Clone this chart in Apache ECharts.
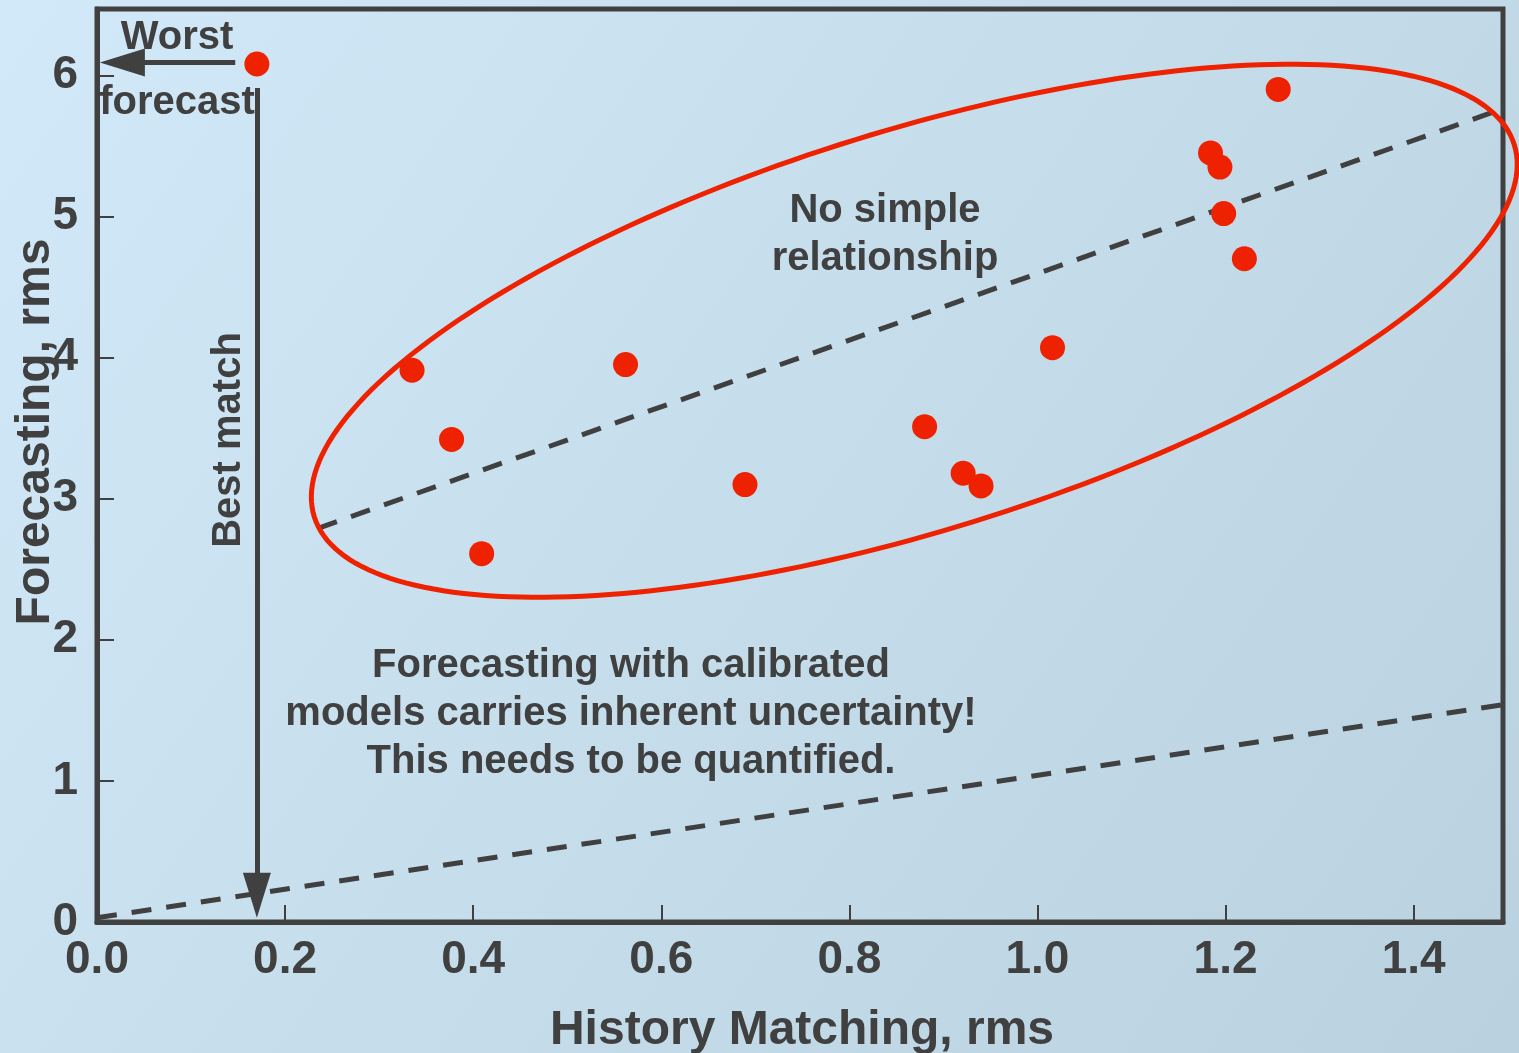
<!DOCTYPE html>
<html><head><meta charset="utf-8">
<script src="https://cdn.jsdelivr.net/npm/echarts@6/dist/echarts.min.js"></script>
<style>html,body{margin:0;padding:0;overflow:hidden;}#c{width:1519px;height:1053px;}</style>
</head><body><div id="c"></div>
<script>
// ---- data ----
const historyRms = [0.170, 0.335, 0.377, 0.409, 0.562, 0.689, 0.880, 0.921, 0.940, 1.016, 1.184, 1.194, 1.198, 1.220, 1.256];
const forecastRms = [6.08, 3.91, 3.42, 2.61, 3.95, 3.10, 3.51, 3.18, 3.09, 4.07, 5.45, 5.35, 5.02, 4.70, 5.90];
const trendLine = [[0.235, 2.79], [1.485, 5.74]];
const lowerLine = [[0.0, 0.03], [1.495, 1.54]];
const ellipseCenter = [0.869, 4.19];
const ellipseU = [0.638, 1.318];
const ellipseV = [-0.0631, 1.353];
const worstArrow = [[0.147, 6.09], [0.027, 6.09]];
const bestArrow = [[0.170, 5.91], [0.170, 0.19]];
const xTickLabels = ['0.0','0.2','0.4','0.6','0.8','1.0','1.2','1.4'];
const yTickLabels = ['0','1','2','3','4','5','6'];

const INK = '#404040';
const RED = '#ee2200';
const FONT = "'Liberation Sans', Arial, sans-serif";
const points = historyRms.map((x, i) => [x, forecastRms[i]]);

const chart = echarts.init(document.getElementById('c'));
chart.setOption({
  animation: false,
  backgroundColor: new echarts.graphic.LinearGradient(0, 0, 1, 1, [
    { offset: 0, color: '#d1e9f8' },
    { offset: 1, color: '#bad2df' }
  ]),
  grid: { left: 97, top: 9, right: 16, bottom: 131, show: true, borderColor: INK, borderWidth: 5, backgroundColor: 'transparent' },
  xAxis: {
    type: 'value', min: 0, max: 1.495, interval: 0.2,
    splitLine: { show: false },
    axisLine: { show: true, lineStyle: { color: INK, width: 5 } },
    axisTick: { show: true, inside: true, length: 17, lineStyle: { color: INK, width: 2 } },
    axisLabel: {
      showMaxLabel: false, margin: 15, color: INK, fontSize: 46, fontWeight: 'bold', fontFamily: FONT,
      formatter: v => { const i = Math.round(v / 0.2); return Math.abs(i * 0.2 - v) < 1e-6 ? (xTickLabels[i] || '') : ''; }
    }
  },
  yAxis: {
    type: 'value', min: 0, max: 6.47, interval: 1,
    splitLine: { show: false },
    axisLine: { show: true, lineStyle: { color: INK, width: 5 } },
    axisTick: { show: true, inside: true, length: 17, lineStyle: { color: INK, width: 2 } },
    axisLabel: {
      showMaxLabel: false, margin: 19, color: INK, fontSize: 46, fontWeight: 'bold', fontFamily: FONT,
      padding: [4, 0, 0, 0],
      formatter: v => { const i = Math.round(v); return Math.abs(i - v) < 1e-6 ? (yTickLabels[i] || '') : ''; }
    }
  },
  series: [
    {
      type: 'line', data: lowerLine, symbol: 'none', z: 3,
      lineStyle: { color: INK, width: 5, type: [20, 15] }
    },
    {
      type: 'line', data: trendLine, symbol: 'none', z: 3,
      lineStyle: { color: INK, width: 5, type: [20, 15] }
    },
    {
      type: 'custom', z: 4, clip: false,
      data: [ellipseCenter],
      renderItem: function (params, api) {
        const pts = [];
        const N = 240;
        for (let k = 0; k <= N; k++) {
          const t = 2 * Math.PI * k / N;
          pts.push(api.coord([
            ellipseCenter[0] + ellipseU[0] * Math.cos(t) + ellipseV[0] * Math.sin(t),
            ellipseCenter[1] + ellipseU[1] * Math.cos(t) + ellipseV[1] * Math.sin(t)
          ]));
        }
        return { type: 'polygon', shape: { points: pts }, style: { fill: 'none', stroke: RED, lineWidth: 5 } };
      }
    },
    {
      type: 'line', data: [], z: 5,
      markLine: {
        silent: true, symbol: ['none', 'triangle'], symbolSize: [28, 45], label: { show: false },
        lineStyle: { color: INK, width: 5, type: 'solid' },
        data: [
          [{ coord: worstArrow[0] }, { coord: worstArrow[1] }],
          [{ coord: bestArrow[0] }, { coord: bestArrow[1] }]
        ]
      }
    },
    {
      type: 'scatter', data: points, symbol: 'circle', symbolSize: 25, z: 6,
      itemStyle: { color: RED, opacity: 1 }
    }
  ],
  graphic: [
    { type: 'text', x: 177, y: 38, style: { text: 'Worst', textAlign: 'center', textVerticalAlign: 'middle', fill: INK, font: 'bold 40px ' + FONT } },
    { type: 'text', x: 177, y: 103, style: { text: 'forecast', textAlign: 'center', textVerticalAlign: 'middle', fill: INK, font: 'bold 40px ' + FONT } },
    { type: 'text', x: 229, y: 440, rotation: Math.PI / 2, style: { text: 'Best match', textAlign: 'center', textVerticalAlign: 'middle', fill: INK, font: 'bold 40px ' + FONT } },
    { type: 'text', x: 885, y: 211, style: { text: 'No simple', textAlign: 'center', textVerticalAlign: 'middle', fill: INK, font: 'bold 40px ' + FONT } },
    { type: 'text', x: 885, y: 259, style: { text: 'relationship', textAlign: 'center', textVerticalAlign: 'middle', fill: INK, font: 'bold 40px ' + FONT } },
    { type: 'text', x: 631, y: 666, style: { text: 'Forecasting with calibrated', textAlign: 'center', textVerticalAlign: 'middle', fill: INK, font: 'bold 40px ' + FONT } },
    { type: 'text', x: 631, y: 714, style: { text: 'models carries inherent uncertainty!', textAlign: 'center', textVerticalAlign: 'middle', fill: INK, font: 'bold 40px ' + FONT } },
    { type: 'text', x: 631, y: 762, style: { text: 'This needs to be quantified.', textAlign: 'center', textVerticalAlign: 'middle', fill: INK, font: 'bold 40px ' + FONT } },
    { type: 'text', x: 36, y: 432, rotation: Math.PI / 2, style: { text: 'Forecasting, rms', textAlign: 'center', textVerticalAlign: 'middle', fill: INK, font: 'bold 48px ' + FONT } },
    { type: 'text', x: 802, y: 1031, style: { text: 'History Matching, rms', textAlign: 'center', textVerticalAlign: 'middle', fill: INK, font: 'bold 48px ' + FONT } }
  ]
});
</script>
</body></html>
